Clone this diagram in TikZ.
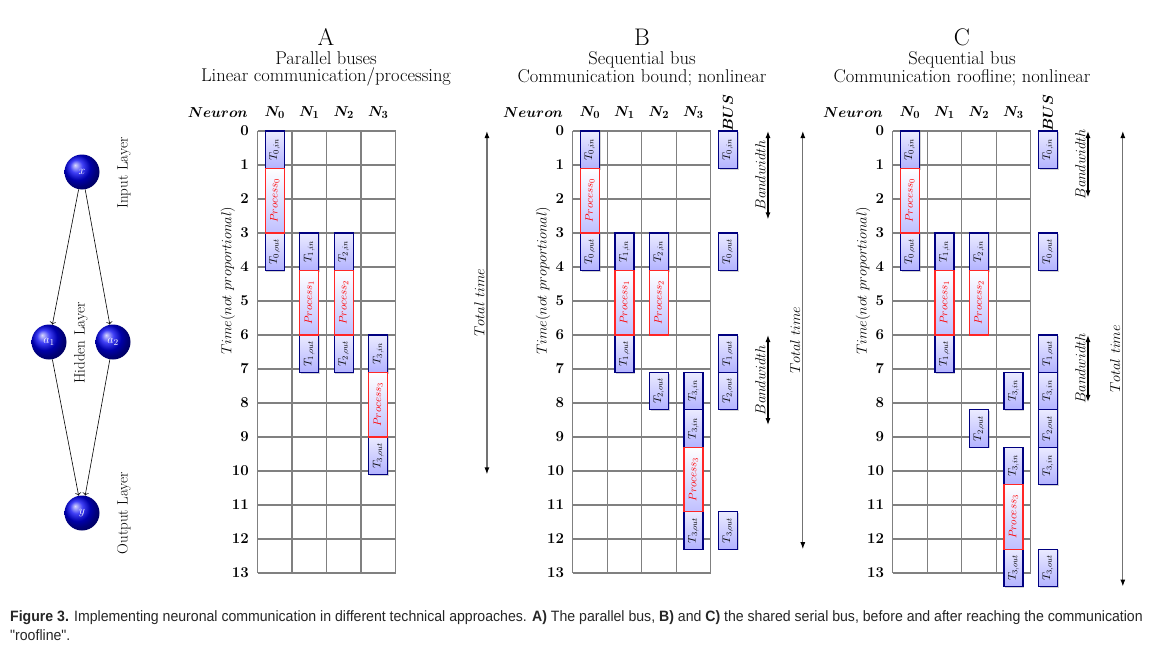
\documentclass[tikz,border=0pt]{standalone}
\usepackage{amsmath}
\usepackage{fontspec}
\usepackage{graphicx}
\usetikzlibrary{arrows.meta, shadows, positioning, calc}
\newfontfamily\capfont[FakeStretch=0.94]{Liberation Sans}

\tikzset{
	neuron/.style={circle, shading=ball, ball color=blue!95!black, minimum size=35pt, inner sep=0pt, text=white, font=\fontsize{13}{13}\selectfont},
	layer/.style={rotate=90, font=\fontsize{15}{15}\selectfont},
	gridline/.style={black!50, line width=1.1pt},
	rownum/.style={anchor=east, font=\fontsize{15}{15}\selectfont\bfseries},
	head/.style={font=\fontsize{15}{15}\selectfont\boldmath},
	timelab/.style={rotate=90, font=\fontsize{14.5}{14.5}\selectfont},
	tbox/.style={draw=blue!50!black, line width=1.1pt, top color=blue!8, bottom color=blue!30, minimum width=19pt, minimum height=37.4pt, inner sep=0pt, drop shadow={shadow xshift=1.2pt, shadow yshift=-1.2pt, opacity=0.35}, font=\fontsize{11}{11}\selectfont},
	pbox/.style={draw=red!85, line width=1.1pt, top color=white, bottom color=blue!25, minimum width=19pt, minimum height=64.6pt, inner sep=0pt, text=red, font=\fontsize{11}{11}\selectfont},
	bigtitle/.style={inner sep=0pt, font=\fontsize{24}{24}\selectfont},
	subtitle/.style={align=center, inner sep=0pt, font=\fontsize{18.5}{16.5}\selectfont},
	spanarrow/.style={black!55, line width=1.2pt, {Latex[length=7pt,width=5pt,black]}-{Latex[length=7pt,width=5pt,black]}},
	spanlab/.style={rotate=90, anchor=south, inner sep=2pt, text=black, font=\fontsize{15}{15}\selectfont}
}

\begin{document}
\begin{tikzpicture}[x=1pt, y=-1pt]
		\useasboundingbox[fill=white] (0,0) rectangle (1158,658);
		% Network
		\node[neuron] (x) at (82,172) {$x$};
		\node[neuron] (a1) at (49,342) {$a_1$};
		\node[neuron] (a2) at (113,342) {$a_2$};
		\node[neuron] (y) at (82,513) {$y$};
		\draw[semithick, ->] (x) -- (a1);
		\draw[semithick, ->] (x) -- (a2);
		\draw[semithick, ->] (a1) -- (y);
		\draw[semithick, ->] (a2) -- (y);
		\node[layer] (inlayer) at (124,173) {Input Layer};
		\node[layer] (hidlayer) at (81,343) {Hidden Layer};
		\node[layer] (outlayer) at (124,513) {Output Layer};

		% Grids, time axis and headers
		\foreach \p/\px in {A/257.5, B/572.7, C/892.7}{
			\begin{scope}[shift={(\px pt,-131pt)}, x=34.5pt, y=-34pt]
				\foreach \r in {0,...,13} \draw[gridline] (0,\r) -- (4,\r);
				\foreach \c in {0,...,4} \draw[gridline] (\c,0) -- (\c,13);
				\foreach \r in {0,...,13} \node[rownum] (\p-r\r) at (-0.15,\r) {\r};
				\node[head] (\p-neuron) at (-1.15,-0.53) {$Neuron$};
				\foreach \n in {0,...,3} \node[head] (\p-n\n) at (\n+0.5,-0.53) {$N_\n$};
				\node[timelab] (\p-time) at (-0.86,4.4) {$Time(not\ proportional)$};
			\end{scope}
		}

		% Titles
		\node[bigtitle] (A-title) at (326,37) {A};
		\node[subtitle] (A-sub) at (326,69) {Parallel buses\\Linear communication/processing};
		\node[bigtitle] (B-title) at (642,37) {B};
		\node[subtitle] (B-sub) at (642,69) {Sequential bus\\Communication bound; nonlinear};
		\node[bigtitle] (C-title) at (962,37) {C};
		\node[subtitle] (C-sub) at (962,69) {Sequential bus\\Communication roofline; nonlinear};

		% A: parallel buses
		\begin{scope}[shift={(257.5pt,-131pt)}, x=34.5pt, y=-34pt]
			\foreach \c/\t/\lab [count=\i] in {0/0/{0,in}, 0/3/{0,out}, 1/3/{1,in}, 1/6/{1,out}, 2/3/{2,in}, 2/6/{2,out}, 3/6/{3,in}, 3/9/{3,out}}
				\node[tbox] (A-T\i) at (\c+0.5,\t+0.55) {\rotatebox{90}{$T_{\lab}$}};
			\foreach \c/\t [count=\i] in {0/1.1, 1/4.1, 2/4.1, 3/7.1}
				\node[pbox] (A-P\i) at (\c+0.5,\t+0.95) {\rotatebox{90}{$Process_{\c}$}};
			\coordinate (A-tt0) at (6.65,0);
			\coordinate (A-tt1) at (6.65,10.1);
			\draw[spanarrow] (A-tt0) -- node[spanlab] (A-total) {$Total\ time$} (A-tt1);
		\end{scope}

		% B: sequential bus, communication bound
		\begin{scope}[shift={(572.7pt,-131pt)}, x=34.5pt, y=-34pt]
			\node[head, rotate=90] (B-bus) at (4.5,-0.53) {$BUS$};
			\foreach \c/\t/\lab [count=\i] in {0/0/{0,in}, 0/3/{0,out}, 1/3/{1,in}, 1/6/{1,out}, 2/3/{2,in}, 2/7.1/{2,out}, 3/7.1/{3,in}, 3/8.2/{3,in}, 3/11.2/{3,out}, 4/0/{0,in}, 4/3/{0,out}, 4/6/{1,out}, 4/7.1/{2,out}, 4/11.2/{3,out}}
				\node[tbox] (B-T\i) at (\c+0.5,\t+0.55) {\rotatebox{90}{$T_{\lab}$}};
			\foreach \c/\t [count=\i] in {0/1.1, 1/4.1, 2/4.1, 3/9.3}
				\node[pbox] (B-P\i) at (\c+0.5,\t+0.95) {\rotatebox{90}{$Process_{\c}$}};
			\coordinate (B-bw0) at (5.66,0);
			\coordinate (B-bw1) at (5.66,2.6);
			\coordinate (B-bw2) at (5.66,6);
			\coordinate (B-bw3) at (5.66,8.65);
			\draw[spanarrow, black] (B-bw0) -- node[spanlab] (B-band1) {$Bandwidth$} (B-bw1);
			\draw[spanarrow, black] (B-bw2) -- node[spanlab] (B-band2) {$Bandwidth$} (B-bw3);
			\coordinate (B-tt0) at (6.67,0);
			\coordinate (B-tt1) at (6.67,12.3);
			\draw[spanarrow] (B-tt0) -- node[spanlab] (B-total) {$Total\ time$} (B-tt1);
		\end{scope}

		% C: sequential bus, roofline
		\begin{scope}[shift={(892.7pt,-131pt)}, x=34.5pt, y=-34pt]
			\node[head, rotate=90] (C-bus) at (4.5,-0.53) {$BUS$};
			\foreach \c/\t/\lab [count=\i] in {0/0/{0,in}, 0/3/{0,out}, 1/3/{1,in}, 1/6/{1,out}, 2/3/{2,in}, 2/8.2/{2,out}, 3/7.1/{3,in}, 3/9.3/{3,in}, 3/12.3/{3,out}, 4/0/{0,in}, 4/3/{0,out}, 4/6/{1,out}, 4/7.1/{3,in}, 4/8.2/{2,out}, 4/9.3/{3,in}, 4/12.3/{3,out}}
				\node[tbox] (C-T\i) at (\c+0.5,\t+0.55) {\rotatebox{90}{$T_{\lab}$}};
			\foreach \c/\t [count=\i] in {0/1.1, 1/4.1, 2/4.1, 3/10.4}
				\node[pbox] (C-P\i) at (\c+0.5,\t+0.95) {\rotatebox{90}{$Process_{\c}$}};
			\coordinate (C-bw0) at (5.66,0);
			\coordinate (C-bw1) at (5.66,1.95);
			\coordinate (C-bw2) at (5.66,6);
			\coordinate (C-bw3) at (5.66,7.97);
			\draw[spanarrow, black] (C-bw0) -- node[spanlab] (C-band1) {$Bandwidth$} (C-bw1);
			\draw[spanarrow, black] (C-bw2) -- node[spanlab] (C-band2) {$Bandwidth$} (C-bw3);
			\coordinate (C-tt0) at (6.67,0);
			\coordinate (C-tt1) at (6.67,13.4);
			\draw[spanarrow] (C-tt0) -- node[spanlab] (C-total) {$Total\ time$} (C-tt1);
		\end{scope}

		% Caption
		\node[anchor=north west, align=left, inner sep=0pt, text=black!85, font=\capfont\fontsize{15}{19.5}\selectfont] (caption) at (10,610)
			{\textbf{Figure 3.} Implementing neuronal communication in different technical approaches. \textbf{A)} The parallel bus, \textbf{B)} and \textbf{C)} the shared serial bus, before and after reaching the communication\\"roofline".};
	\end{tikzpicture}
\end{document}
